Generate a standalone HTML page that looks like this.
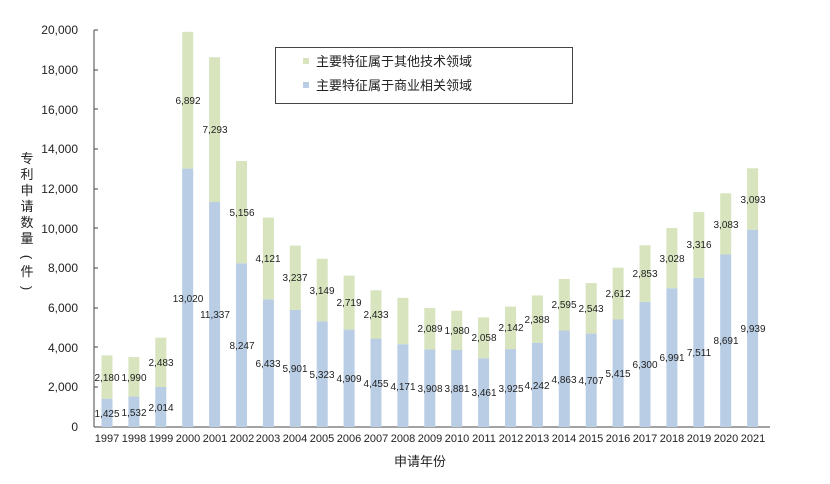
<!DOCTYPE html>
<html><head><meta charset="utf-8"><style>
body{margin:0;background:#fff;}
svg{display:block;font-family:"Liberation Sans","Noto Sans CJK SC",sans-serif;}
.v{font-size:10px;fill:#222;text-anchor:middle;}
.yr{font-size:11px;fill:#222;text-anchor:middle;}
.yt{font-size:12px;fill:#222;text-anchor:end;}
</style></head><body>
<svg width="830" height="484" viewBox="0 0 830 484">
<g class="yt">
<text x="78" y="431">0</text>
<text x="78" y="391">2,000</text>
<text x="78" y="352">4,000</text>
<text x="78" y="312">6,000</text>
<text x="78" y="272">8,000</text>
<text x="78" y="233">10,000</text>
<text x="78" y="193">12,000</text>
<text x="78" y="153">14,000</text>
<text x="78" y="114">16,000</text>
<text x="78" y="74">18,000</text>
<text x="78" y="34">20,000</text>
</g>
<g stroke="#444" stroke-width="1">
<line x1="94" y1="30" x2="94" y2="427"/>
<line x1="94" y1="427" x2="770" y2="427"/>
<line x1="94" y1="30" x2="98" y2="30"/><line x1="94" y1="70" x2="98" y2="70"/><line x1="94" y1="109" x2="98" y2="109"/><line x1="94" y1="149" x2="98" y2="149"/><line x1="94" y1="189" x2="98" y2="189"/><line x1="94" y1="228" x2="98" y2="228"/><line x1="94" y1="268" x2="98" y2="268"/><line x1="94" y1="308" x2="98" y2="308"/><line x1="94" y1="347" x2="98" y2="347"/><line x1="94" y1="387" x2="98" y2="387"/>
</g>
<g fill="#b9cde5">
<rect x="101.5" y="398.7" width="11" height="28.3"/>
<rect x="128.4" y="396.6" width="11" height="30.4"/>
<rect x="155.3" y="387.0" width="11" height="40"/>
<rect x="182.2" y="168.6" width="11" height="258.4"/>
<rect x="209.1" y="202.0" width="11" height="225"/>
<rect x="236" y="263.3" width="11" height="163.7"/>
<rect x="262.9" y="299.3" width="11" height="127.7"/>
<rect x="289.8" y="309.9" width="11" height="117.1"/>
<rect x="316.7" y="321.3" width="11" height="105.7"/>
<rect x="343.6" y="329.6" width="11" height="97.4"/>
<rect x="370.5" y="338.6" width="11" height="88.4"/>
<rect x="397.4" y="344.2" width="11" height="82.8"/>
<rect x="424.3" y="349.4" width="11" height="77.6"/>
<rect x="451.2" y="350.0" width="11" height="77"/>
<rect x="478.1" y="358.3" width="11" height="68.7"/>
<rect x="505" y="349.1" width="11" height="77.9"/>
<rect x="531.9" y="342.8" width="11" height="84.2"/>
<rect x="558.8" y="330.5" width="11" height="96.5"/>
<rect x="585.7" y="333.6" width="11" height="93.4"/>
<rect x="612.6" y="319.5" width="11" height="107.5"/>
<rect x="639.5" y="301.9" width="11" height="125.1"/>
<rect x="666.4" y="288.2" width="11" height="138.8"/>
<rect x="693.3" y="277.9" width="11" height="149.1"/>
<rect x="720.2" y="254.5" width="11" height="172.5"/>
<rect x="747.1" y="229.7" width="11" height="197.3"/>
</g>
<g fill="#d7e4bd">
<rect x="101.5" y="355.4" width="11" height="43.3"/>
<rect x="128.4" y="357.1" width="11" height="39.5"/>
<rect x="155.3" y="337.7" width="11" height="49.3"/>
<rect x="182.2" y="31.8" width="11" height="136.8"/>
<rect x="209.1" y="57.2" width="11" height="144.8"/>
<rect x="236" y="161.0" width="11" height="102.3"/>
<rect x="262.9" y="217.5" width="11" height="81.8"/>
<rect x="289.8" y="245.6" width="11" height="64.3"/>
<rect x="316.7" y="258.8" width="11" height="62.5"/>
<rect x="343.6" y="275.6" width="11" height="54"/>
<rect x="370.5" y="290.3" width="11" height="48.3"/>
<rect x="397.4" y="297.9" width="11" height="46.3"/>
<rect x="424.3" y="307.9" width="11" height="41.5"/>
<rect x="451.2" y="310.7" width="11" height="39.3"/>
<rect x="478.1" y="317.4" width="11" height="40.9"/>
<rect x="505" y="306.6" width="11" height="42.5"/>
<rect x="531.9" y="295.4" width="11" height="47.4"/>
<rect x="558.8" y="279.0" width="11" height="51.5"/>
<rect x="585.7" y="283.1" width="11" height="50.5"/>
<rect x="612.6" y="267.7" width="11" height="51.8"/>
<rect x="639.5" y="245.3" width="11" height="56.6"/>
<rect x="666.4" y="228.1" width="11" height="60.1"/>
<rect x="693.3" y="212.0" width="11" height="65.9"/>
<rect x="720.2" y="193.3" width="11" height="61.2"/>
<rect x="747.1" y="168.3" width="11" height="61.4"/>
</g>
<g class="v">
<text x="107" y="417">1,425</text><text x="107" y="381">2,180</text>
<text x="134" y="416">1,532</text><text x="134" y="381">1,990</text>
<text x="161" y="411">2,014</text><text x="161" y="366">2,483</text>
<text x="188" y="302">13,020</text><text x="188" y="104">6,892</text>
<text x="215" y="318">11,337</text><text x="215" y="133">7,293</text>
<text x="242" y="349">8,247</text><text x="242" y="216">5,156</text>
<text x="268" y="367">6,433</text><text x="268" y="262">4,121</text>
<text x="295" y="372">5,901</text><text x="295" y="281">3,237</text>
<text x="322" y="378">5,323</text><text x="322" y="294">3,149</text>
<text x="349" y="382">4,909</text><text x="349" y="306">2,719</text>
<text x="376" y="387">4,455</text><text x="376" y="318">2,433</text>
<text x="403" y="390">4,171</text>
<text x="430" y="392">3,908</text><text x="430" y="332">2,089</text>
<text x="457" y="392">3,881</text><text x="457" y="334">1,980</text>
<text x="484" y="396">3,461</text><text x="484" y="341">2,058</text>
<text x="511" y="392">3,925</text><text x="511" y="331">2,142</text>
<text x="537" y="389">4,242</text><text x="537" y="323">2,388</text>
<text x="564" y="383">4,863</text><text x="564" y="308">2,595</text>
<text x="591" y="384">4,707</text><text x="591" y="312">2,543</text>
<text x="618" y="377">5,415</text><text x="618" y="297">2,612</text>
<text x="645" y="368">6,300</text><text x="645" y="277">2,853</text>
<text x="672" y="361">6,991</text><text x="672" y="262">3,028</text>
<text x="699" y="356">7,511</text><text x="699" y="248">3,316</text>
<text x="726" y="344">8,691</text><text x="726" y="228">3,083</text>
<text x="753" y="332">9,939</text><text x="753" y="203">3,093</text>
</g>
<g class="yr">
<text x="107" y="442">1997</text><text x="134" y="442">1998</text><text x="161" y="442">1999</text><text x="188" y="442">2000</text><text x="215" y="442">2001</text><text x="242" y="442">2002</text><text x="268" y="442">2003</text><text x="295" y="442">2004</text><text x="322" y="442">2005</text><text x="349" y="442">2006</text><text x="376" y="442">2007</text><text x="403" y="442">2008</text><text x="430" y="442">2009</text><text x="457" y="442">2010</text><text x="484" y="442">2011</text><text x="511" y="442">2012</text><text x="537" y="442">2013</text><text x="564" y="442">2014</text><text x="591" y="442">2015</text><text x="618" y="442">2016</text><text x="645" y="442">2017</text><text x="672" y="442">2018</text><text x="699" y="442">2019</text><text x="726" y="442">2020</text><text x="753" y="442">2021</text>
</g>
<text x="420" y="466" font-size="13" text-anchor="middle" fill="#222">申请年份</text>
<g font-size="13" fill="#222" text-anchor="middle">
<text x="27" y="163">专</text><text x="27" y="179">利</text><text x="27" y="195">申</text><text x="27" y="211">请</text><text x="27" y="227">数</text><text x="27" y="243">量</text>
<text x="27" y="276">件</text>
<text x="0" y="0" transform="translate(27 257) rotate(90)" dominant-baseline="central">(</text>
<text x="0" y="0" transform="translate(27 288) rotate(90)" dominant-baseline="central">)</text>
</g>
<rect x="275.5" y="47.5" width="297" height="56" fill="#fff" stroke="#444"/>
<rect x="303" y="58" width="6" height="6" fill="#d7e4bd"/>
<rect x="303" y="82" width="6" height="6" fill="#b9cde5"/>
<text x="316" y="66" font-size="13" fill="#222">主要特征属于其他技术领域</text>
<text x="316" y="90" font-size="13" fill="#222">主要特征属于商业相关领域</text>
</svg>
</body></html>
